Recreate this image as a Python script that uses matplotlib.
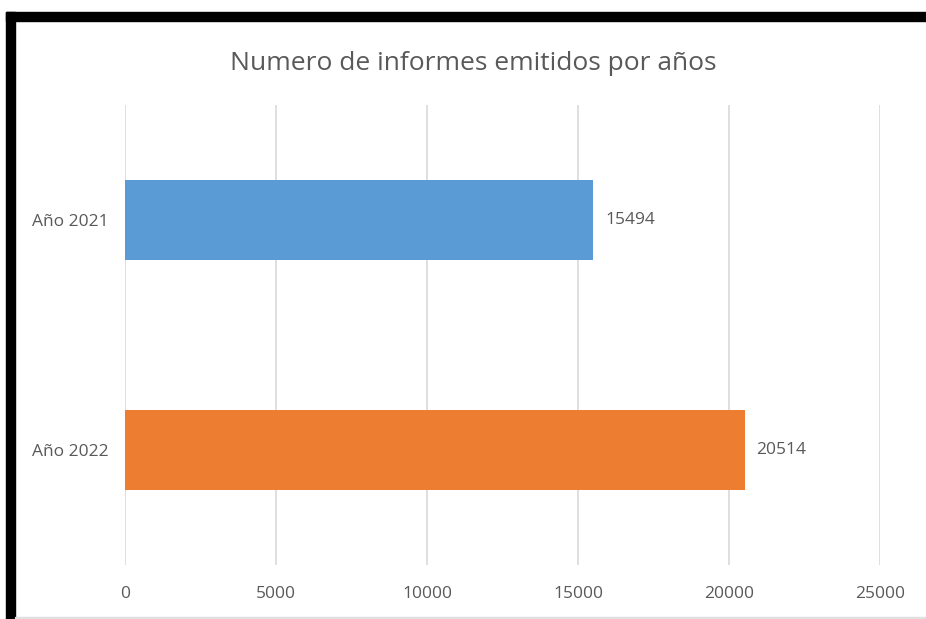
import matplotlib.pyplot as plt
from matplotlib.patches import Rectangle

# datos
categorias = ["Año 2021", "Año 2022"]
valores = [15494, 20514]
colores = ["#5B9BD5", "#ED7D31"]
ticks_x = [0, 5000, 10000, 15000, 20000, 25000]

plt.rcParams["font.family"] = ["Open Sans", "DejaVu Sans"]
texto = "#595959"

W, H = 926, 619
fig = plt.figure(figsize=(W / 100, H / 100), dpi=100)
ax = fig.add_axes([125 / W, 1 - 565 / H, 755 / W, 460 / H])

pos = list(range(len(categorias)))
ax.barh(pos, valores, height=0.35, color=colores, zorder=3)
for p, v in zip(pos, valores):
    ax.text(v + 400, p, str(v), va="center", ha="left", fontsize=12.5, color=texto)

ax.set_xlim(0, 25000)
ax.set_ylim(1.5, -0.5)
ax.set_xticks(ticks_x)
ax.set_xticklabels([str(t) for t in ticks_x], fontsize=12.5, color=texto)
ax.set_yticks(pos)
ax.set_yticklabels(categorias, fontsize=12.5, color=texto)
ax.tick_params(length=0)
ax.tick_params(axis="x", pad=15)
ax.tick_params(axis="y", pad=12)
ax.grid(axis="x", color="#D9D9D9", linewidth=1.2, zorder=0)
for s in ax.spines.values():
    s.set_visible(False)

fig.text(473 / W, 1 - 63 / H, "Numero de informes emitidos por años",
         ha="center", va="center", fontsize=19, color=texto)

# marco negro arriba e izquierda
fig.patches.append(Rectangle((6 / W, 0), 9 / W, 1 - 12 / H, transform=fig.transFigure,
                             color="black", zorder=10))
fig.patches.append(Rectangle((6 / W, 1 - 21 / H), 1 - 6 / W, 9 / H, transform=fig.transFigure,
                             color="black", zorder=10))
fig.patches.append(Rectangle((15 / W, 1 - 618 / H), 1, 1 / H, transform=fig.transFigure,
                             color="#E0E0E0", zorder=10))

fig.savefig("out.png", dpi=100)
